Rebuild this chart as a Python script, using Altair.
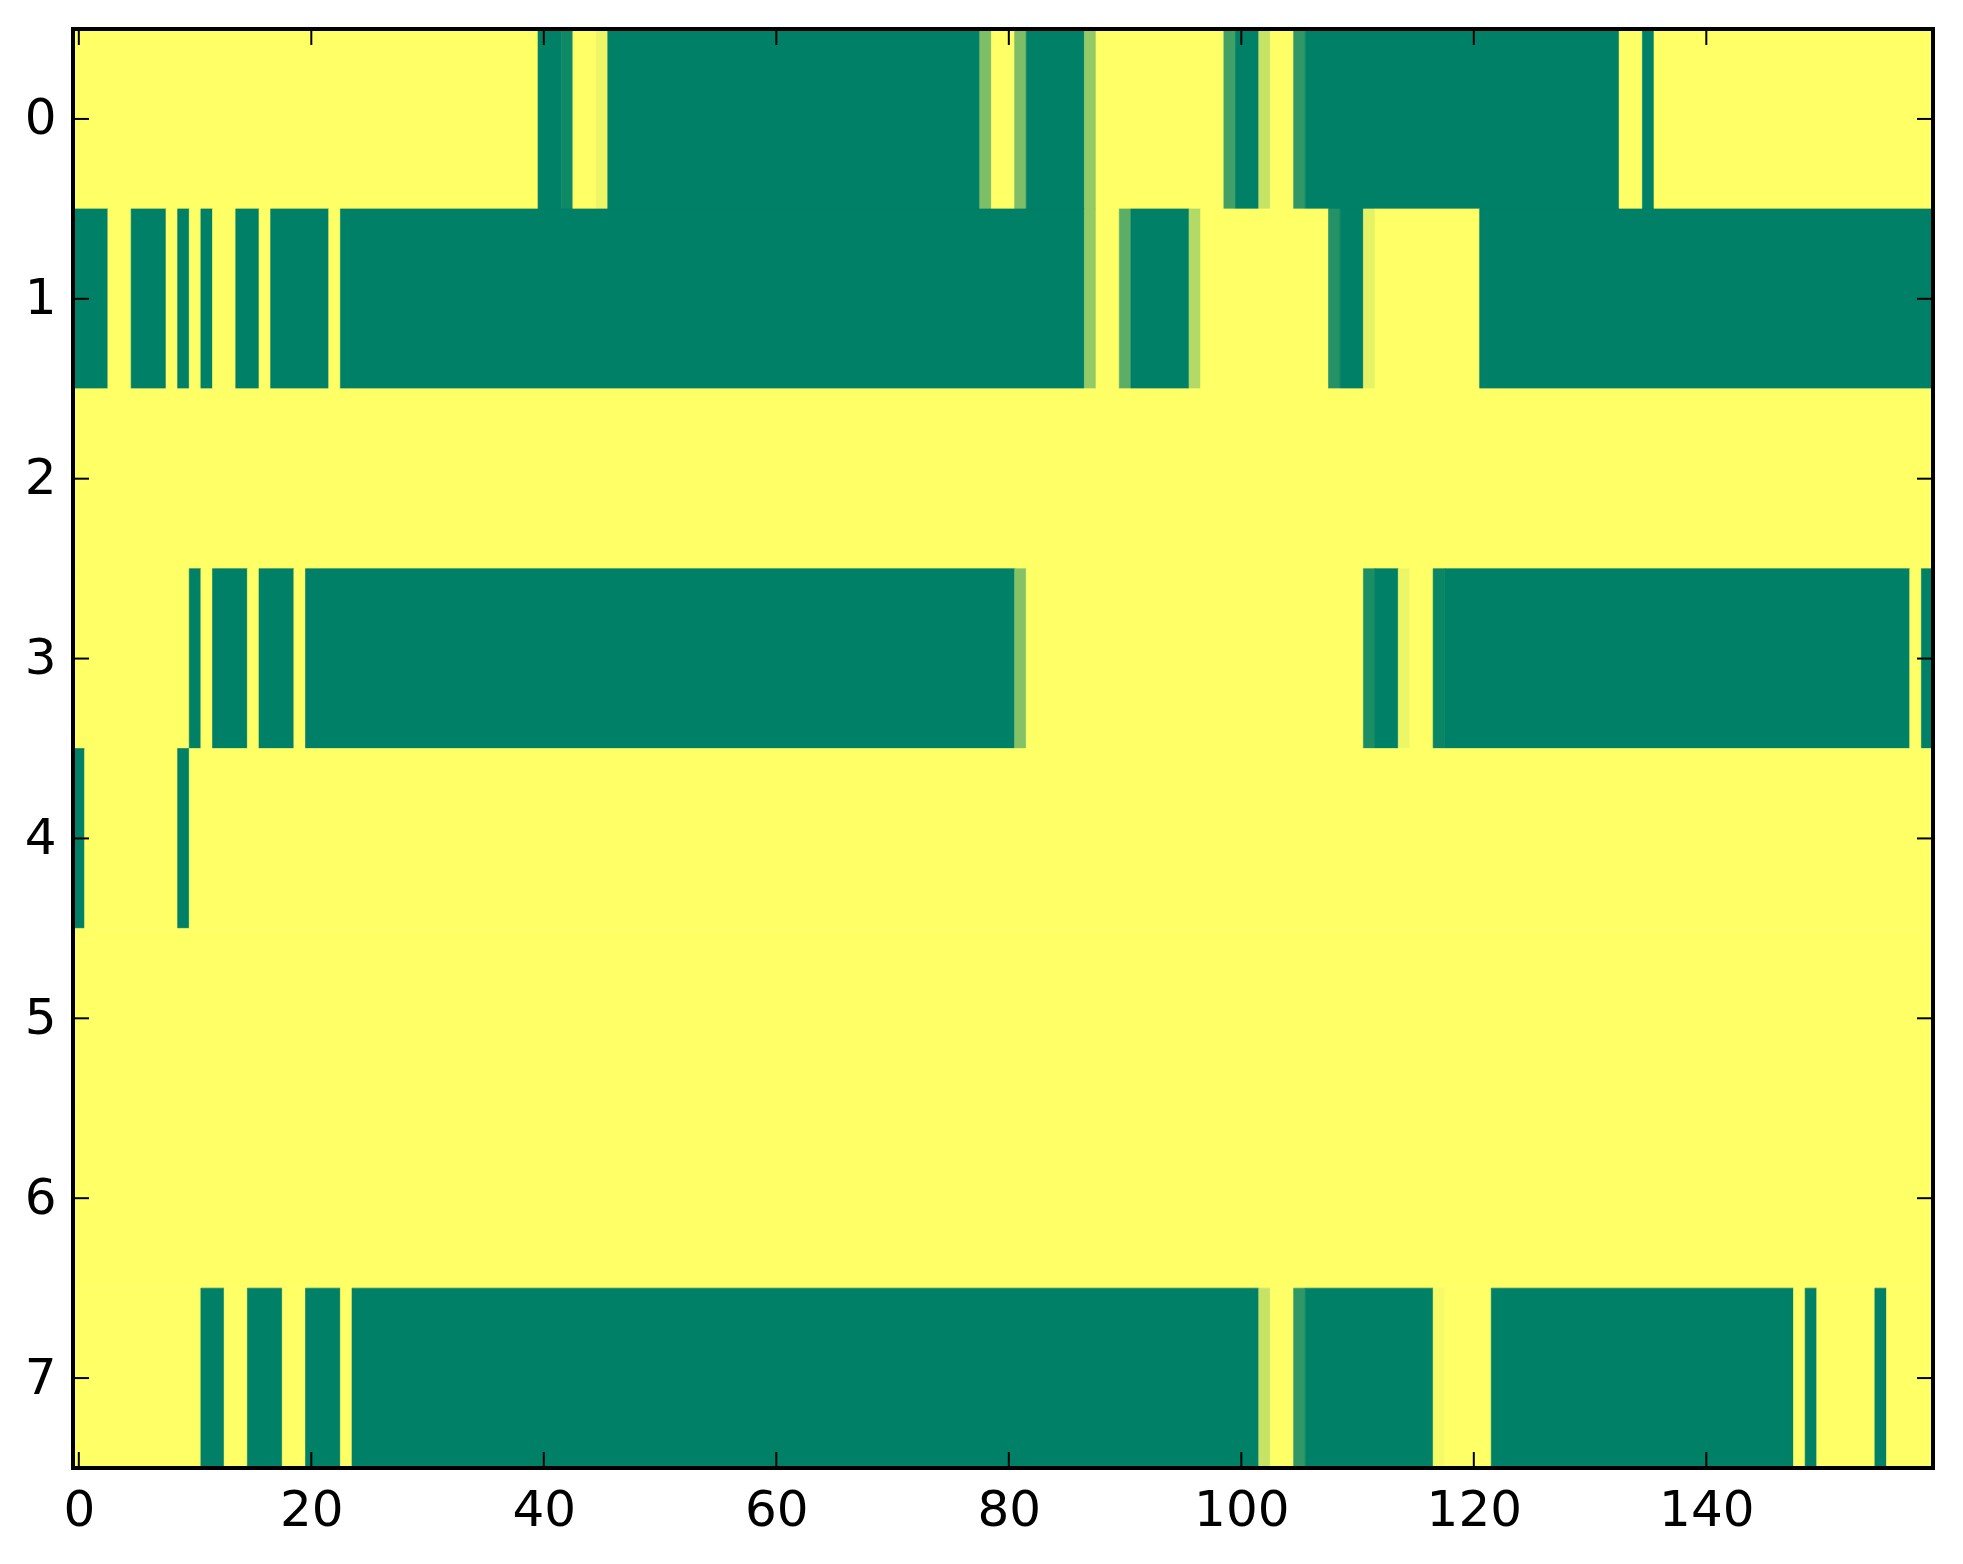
import altair as alt
import pandas as pd

# Row-by-row cell values, as (value, number of cells) runs.
# 0 = green end of the colormap, 1 = yellow end.
row0 = [(1, 40), (0, 2), (0.06, 1), (1, 2), (0.93, 1), (0, 32), (0.49, 1), (1, 2),
        (0.49, 1), (0, 5), (0.58, 1), (1, 11), (0.25, 1), (0, 2), (0.78, 1), (1, 2),
        (0.19, 1), (0, 27), (1, 2), (0, 1), (1, 24)]
row1 = [(0, 3), (1, 2), (0, 3), (1, 1), (0, 1), (1, 1), (0, 1), (1, 2), (0, 2), (1, 1),
        (0, 5), (1, 1), (0, 64), (0.58, 1), (1, 2), (0.36, 1), (0, 5), (0.70, 1),
        (1, 11), (0.14, 1), (0, 2), (0.90, 1), (1, 9), (0, 39)]
row2 = [(1, 160)]
row3 = [(1, 10), (0, 1), (1, 1), (0, 3), (1, 1), (0, 3), (1, 1), (0, 61), (0.52, 1),
        (1, 29), (0.11, 1), (0, 2), (0.93, 1), (1, 2), (0.04, 1), (0, 40), (1, 1), (0, 1)]
row4 = [(0, 1), (1, 8), (0, 1), (1, 150)]
row5 = [(1, 160)]
row6 = [(1, 160)]
row7 = [(1, 11), (0, 2), (1, 2), (0, 3), (1, 2), (0, 3), (1, 1), (0, 78), (0.78, 1),
        (1, 2), (0.19, 1), (0, 11), (0.96, 1), (1, 4), (0, 26), (1, 1), (0, 1), (1, 5),
        (0, 1), (1, 4)]

rows = [row0, row1, row2, row3, row4, row5, row6, row7]
x_ticks = [0, 20, 40, 60, 80, 100, 120, 140]
y_ticks = [0, 1, 2, 3, 4, 5, 6, 7]

recs = []
for r, runs in enumerate(rows):
    start = 0
    for v, n in runs:
        recs.append({"x0": start - 0.5, "x1": start + n - 0.5,
                     "y0": r - 0.5, "y1": r + 0.5, "v": v})
        start += n
cells = pd.DataFrame(recs)

W, H = 1860, 1439
TL = 16  # tick length
FONT = "DejaVu Sans"

xscale = alt.Scale(domain=[-0.5, 159.5], nice=False, zero=False)
yscale = alt.Scale(domain=[-0.5, 7.5], nice=False, zero=False, reverse=True)
cscale = alt.Scale(domain=[0, 1], range=["#008066", "#ffff66"], interpolate="rgb")

xaxis = alt.Axis(values=x_ticks, title=None, domain=False, ticks=False,
                 grid=False, labelFontSize=50, labelFont=FONT,
                 labelColor="black", labelPadding=17, labelFlush=False)
yaxis = alt.Axis(values=y_ticks, title=None, domain=False, ticks=False,
                 grid=False, labelFontSize=50, labelFont=FONT,
                 labelColor="black", labelPadding=17)

heat = alt.Chart(cells).mark_rect(strokeWidth=0.6).encode(
    x=alt.X("x0:Q", scale=xscale, axis=xaxis),
    x2="x1:Q",
    y=alt.Y("y0:Q", scale=yscale, axis=yaxis),
    y2="y1:Q",
    fill=alt.Fill("v:Q", scale=cscale, legend=None),
    stroke=alt.Stroke("v:Q", scale=cscale, legend=None),
)

xt = pd.DataFrame({"xt": x_ticks})
yt = pd.DataFrame({"yt": y_ticks})

top_ticks = alt.Chart(xt).mark_rule(color="black", strokeWidth=2).encode(
    x=alt.X("xt:Q", scale=xscale, axis=xaxis), y=alt.value(0), y2=alt.value(TL))
bottom_ticks = alt.Chart(xt).mark_rule(color="black", strokeWidth=2).encode(
    x=alt.X("xt:Q", scale=xscale, axis=xaxis), y=alt.value(H - TL), y2=alt.value(H))
left_ticks = alt.Chart(yt).mark_rule(color="black", strokeWidth=2).encode(
    y=alt.Y("yt:Q", scale=yscale, axis=yaxis), x=alt.value(0), x2=alt.value(TL))
right_ticks = alt.Chart(yt).mark_rule(color="black", strokeWidth=2).encode(
    y=alt.Y("yt:Q", scale=yscale, axis=yaxis), x=alt.value(W - TL), x2=alt.value(W))

frame = alt.Chart(pd.DataFrame({"f": [0]})).mark_rect(
    filled=False, stroke="black", strokeWidth=4).encode(
    x=alt.value(0), x2=alt.value(W), y=alt.value(0), y2=alt.value(H))

chart = alt.layer(heat, top_ticks, bottom_ticks, left_ticks, right_ticks, frame).properties(
    width=W, height=H,
    autosize=alt.AutoSizeParams(type="none"),
    padding={"left": 65, "top": 21, "right": 20, "bottom": 80},
    background="white",
).configure_view(strokeWidth=0)

chart.save("out.html", embed_options={"renderer": "svg", "actions": False})
